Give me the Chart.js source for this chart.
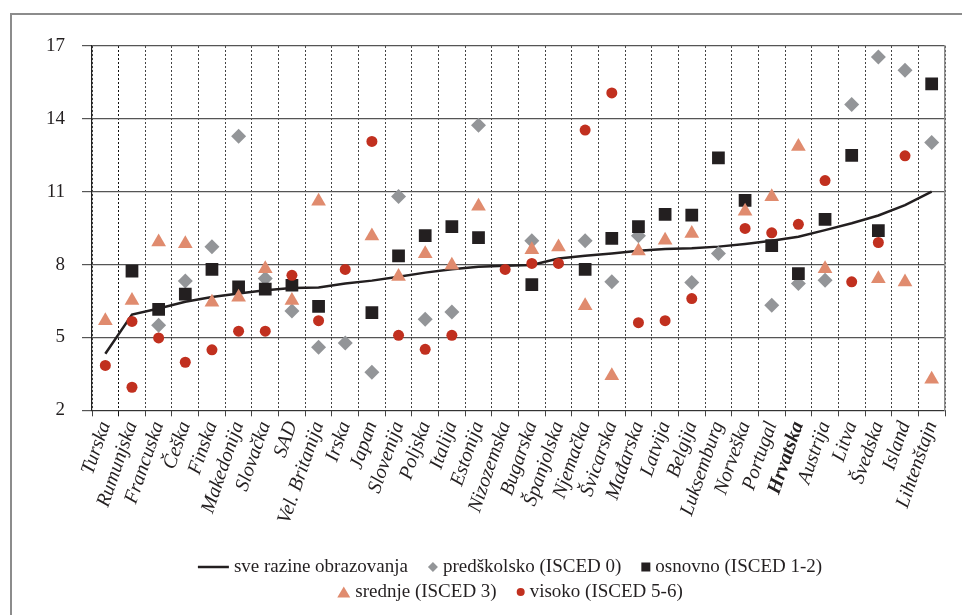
<!DOCTYPE html>
<html>
<head>
<meta charset="utf-8">
<script src="https://cdn.jsdelivr.net/npm/chart.js@4.4.1/dist/chart.umd.min.js"></script>
<style>
    html, body { margin: 0; padding: 0; background: #fff; }
    #wrap { position: relative; width: 962px; height: 615px; overflow: hidden; }
    #frame { position: absolute; left: 10px; top: 13px; width: 970px; height: 620px;
             border-left: 2px solid #8c8c8c; border-top: 2px solid #8c8c8c; }
    #chart { position: absolute; left: 0; top: 0; }
</style>
</head>
<body>
<div id="wrap">
    <div id="frame"></div>
    <canvas id="chart" width="962" height="615"></canvas>
</div>
<script>
// zemlje
var zemlje = ["Turska", "Rumunjska", "Francuska", "Češka", "Finska", "Makedonija", "Slovačka", "SAD",
    "Vel. Britanija", "Irska", "Japan", "Slovenija", "Poljska", "Italija", "Estonija", "Nizozemska",
    "Bugarska", "Španjolska", "Njemačka", "Švicarska", "Mađarska", "Latvija", "Belgija", "Luksemburg",
    "Norveška", "Portugal", "Hrvatska", "Austrija", "Litva", "Švedska", "Island", "Lihtenštajn"];

// sve razine obrazovanja
var sveRazine = [4.33, 5.94, 6.19, 6.47, 6.67, 6.81, 6.94, 7.04, 7.06, 7.22, 7.34, 7.5, 7.67, 7.81, 7.91, 7.95,
    7.98, 8.25, 8.36, 8.46, 8.57, 8.64, 8.67, 8.74, 8.85, 8.98, 9.15, 9.42, 9.7, 10.02, 10.45, 11.0];

// predškolsko (ISCED 0)
var predskolsko = [null, null, 5.5, 7.33, 8.74, 13.28, 7.43, 6.09, 4.6, 4.77, 3.57, 10.8, 5.75, 6.05, 13.74, null,
    8.98, null, 8.98, 7.29, 9.19, null, 7.26, 8.46, null, 6.33, 7.22, 7.36, 14.59, 16.55, 16.0, 13.03];

// osnovno (ISCED 1-2)
var osnovno = [null, 7.73, 6.16, 6.78, 7.8, 7.08, 6.99, 7.15, 6.28, null, 6.02, 8.36, 9.19, 9.56, 9.11, null,
    7.18, null, 7.8, 9.08, 9.56, 10.07, 10.04, 12.39, 10.64, 8.78, 7.63, 9.86, 12.5, 9.4, null, 15.44];

// srednje (ISCED 3)
var srednje = [5.69, 6.52, 8.93, 8.86, 6.45, 6.66, 7.83, 6.52, 10.61, null, 9.18, 7.51, 8.45, 7.97, 10.4, null,
    8.61, 8.72, 6.31, 3.42, 8.56, 9.0, 9.28, null, 10.2, 10.79, 12.86, 7.83, null, 7.42, 7.28, 3.28];

// visoko (ISCED 5-6)
var visoko = [3.85, 5.66, 4.98, 3.98, 4.49, 5.26, 5.26, 7.56, 5.69, 7.8, 13.07, 5.09, 4.51, 5.09, null, 7.8,
    8.05, 8.05, 13.54, 15.07, 5.61, 5.69, 6.6, null, 9.49, 9.31, 9.66, 11.46, 7.29, 8.91, 12.48, null];
// drugi krug kod Rumunjske
var visokoDodatno = [null, 2.95, null, null, null, null, null, null, null, null, null, null, null, null, null, null,
    null, null, null, null, null, null, null, null, null, null, null, null, null, null, null, null];

var yTicks = [2, 5, 8, 11, 14, 17];

// legenda ispod grafa, u dva reda
var legendaRedovi = [[0, 1, 2], [3, 4]];
var markerSize = { line: 31, rectRot: 10, rect: 9, triangle: 13, circle: 8 };

function crtajMarker(ctx, stil, cx, cy, boja) {
    var s = markerSize[stil];
    ctx.fillStyle = boja;
    ctx.strokeStyle = boja;
    ctx.beginPath();
    if (stil === "line") {
        ctx.lineWidth = 2.5;
        ctx.moveTo(cx - s / 2, cy);
        ctx.lineTo(cx + s / 2, cy);
        ctx.stroke();
        return;
    }
    if (stil === "rectRot") {
        ctx.moveTo(cx, cy - s / 2);
        ctx.lineTo(cx + s / 2, cy);
        ctx.lineTo(cx, cy + s / 2);
        ctx.lineTo(cx - s / 2, cy);
    } else if (stil === "rect") {
        ctx.rect(cx - s / 2, cy - s / 2, s, s);
    } else if (stil === "triangle") {
        ctx.moveTo(cx, cy - s * 0.43);
        ctx.lineTo(cx + s / 2, cy + s * 0.43);
        ctx.lineTo(cx - s / 2, cy + s * 0.43);
    } else {
        ctx.arc(cx, cy, s / 2, 0, Math.PI * 2);
    }
    ctx.closePath();
    ctx.fill();
}

var legendaPlugin = {
    id: "legendaDolje",
    afterDraw: function(chart) {
        var ctx = chart.ctx;
        var sets = chart.data.datasets;
        ctx.save();
        ctx.font = '19px "Liberation Serif"';
        ctx.textBaseline = "middle";
        legendaRedovi.forEach(function(red, r) {
            var y = 567 + r * 25;
            var items = red.map(function(i) {
                var ds = sets[i];
                var stil = ds.pointRadius === 0 ? "line" : ds.pointStyle;
                return { ds: ds, stil: stil, mw: markerSize[stil], tw: ctx.measureText(ds.label).width };
            });
            var ukupno = 0;
            items.forEach(function(it, k) { ukupno += it.mw + 5 + it.tw + (k > 0 ? 20 : 0); });
            var x = 510 - ukupno / 2;
            items.forEach(function(it) {
                var boja = it.stil === "line" ? it.ds.borderColor : it.ds.pointBackgroundColor;
                crtajMarker(ctx, it.stil, x + it.mw / 2, y, boja);
                ctx.fillStyle = "#231f20";
                ctx.fillText(it.ds.label, x + it.mw + 5, y);
                x += it.mw + 5 + it.tw + 20;
            });
        });
        ctx.restore();
    }
};

var tocke = function(label, data, stil, radius, boja, red) {
    return {
        label: label,
        data: data,
        showLine: false,
        pointStyle: stil,
        pointRadius: radius,
        pointBackgroundColor: boja,
        pointBorderColor: boja,
        pointBorderWidth: 0,
        order: red
    };
};

document.addEventListener("DOMContentLoaded", function() {
    var ctx = document.getElementById("chart");

    new Chart(ctx, {
        type: "line",
        data: {
            labels: zemlje,
            datasets: [
                {
                    label: "sve razine obrazovanja",
                    data: sveRazine,
                    borderColor: "#231f20",
                    borderWidth: 2.5,
                    pointRadius: 0,
                    tension: 0,
                    order: 10
                },
                tocke("predškolsko (ISCED 0)", predskolsko, "rectRot", 7.5, "#939598", 4),
                tocke("osnovno (ISCED 1-2)", osnovno, "rect", 9, "#231f20", 3),
                tocke("srednje (ISCED 3)", srednje, "triangle", 8.5, "#e08b6e", 2),
                tocke("visoko (ISCED 5-6)", visoko, "circle", 5.5, "#c1301f", 1),
                tocke("visoko dodatno", visokoDodatno, "circle", 5.5, "#c1301f", 1)
            ]
        },
        options: {
            responsive: false,
            animation: false,
            events: [],
            layout: { padding: { left: 29, right: 17, top: 46, bottom: 86 } },
            plugins: {
                legend: { display: false },
                tooltip: { enabled: false }
            },
            scales: {
                x: {
                    offset: true,
                    grid: {
                        offset: true,
                        color: function(c) { return c.index === 1 ? "#111" : "#444"; },
                        lineWidth: 1,
                        tickLength: 6
                    },
                    border: { color: "#333", width: 1, dash: [2, 2] },
                    ticks: {
                        autoSkip: false,
                        minRotation: 71,
                        maxRotation: 71,
                        padding: 2,
                        color: "#231f20",
                        font: function(c) {
                            var hr = c.tick && c.tick.label === "Hrvatska";
                            return { family: "Liberation Serif", size: 20, style: "italic", weight: hr ? "bold" : "normal" };
                        }
                    }
                },
                y: {
                    min: 2,
                    max: 17,
                    afterBuildTicks: function(axis) {
                        axis.ticks = yTicks.map(function(v) { return { value: v }; });
                    },
                    grid: { color: "#555", lineWidth: 1.2, tickLength: 10 },
                    border: { color: "#222", width: 1.2 },
                    ticks: {
                        padding: 17,
                        color: "#231f20",
                        font: { family: "Liberation Serif", size: 19 }
                    }
                },
                y2: {
                    position: "right",
                    display: true,
                    min: 2,
                    max: 17,
                    ticks: { display: false },
                    grid: { drawOnChartArea: false, drawTicks: false },
                    border: { color: "#8c8c8c", width: 1.5 }
                }
            }
        },
        plugins: [legendaPlugin]
    });
});
</script>
</body>
</html>
